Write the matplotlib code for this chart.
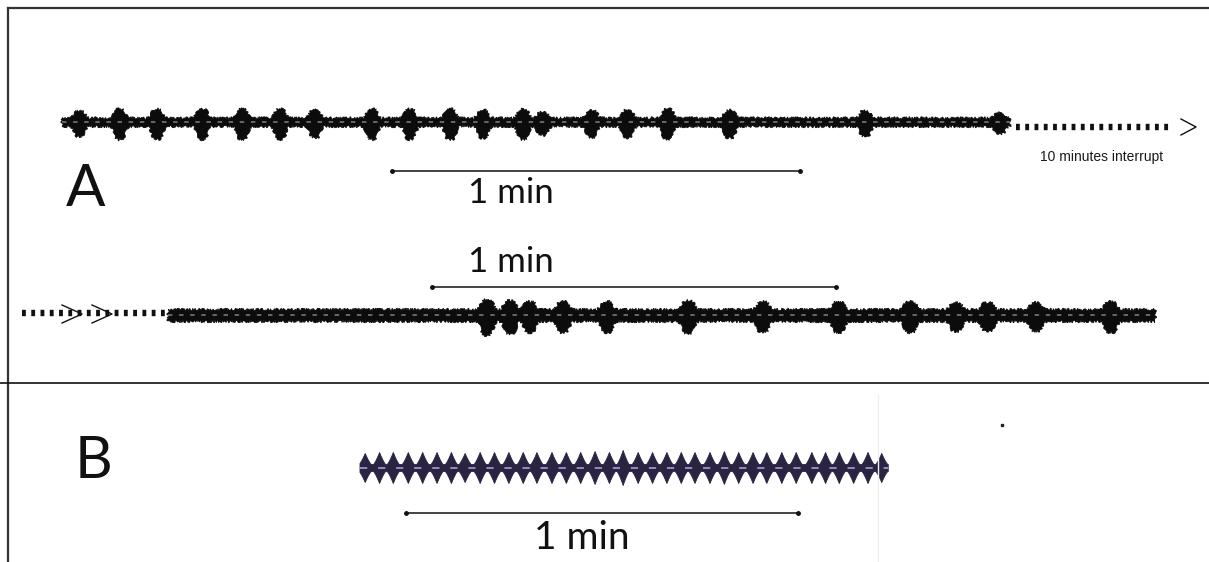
import numpy as np
import matplotlib
matplotlib.use("Agg")
import matplotlib.pyplot as plt

plt.rcParams['font.family'] = ['Lato', 'DejaVu Sans']

# ---- Trace A, first segment (times in s from trace start) ----
a1_duration = 139.4
a1_bursts = [2.6, 8.5, 14.0, 20.6, 26.5, 32.1, 37.2, 45.6, 51.2, 57.1, 61.9,
             67.8, 70.7, 77.9, 83.2, 89.1, 98.2, 118.1, 137.9]
a1_amps = [7, 9, 9, 9, 9, 9, 8, 9, 9, 9, 8, 9, 6, 8, 8, 9, 8, 7, 5]
a1_bar = [48.5, 108.5]

# ---- Trace A, after the 10 minute interruption ----
a2_duration = 146.7
a2_bursts = [47.4, 50.8, 53.8, 58.7, 65.2, 77.3, 88.4, 99.6, 110.3, 117.1,
             121.8, 129.0, 140.1]
a2_amps = [10, 9, 8, 8, 8, 9, 8, 8, 8, 7, 7, 7, 8]
a2_bar = [39.2, 99.2]

# ---- Trace B ----
b_duration = 80.9
b_spikes = [0.8, 3.0, 5.1, 7.4, 9.6, 11.8, 14.0, 16.1, 18.4, 20.6, 22.8, 25.0,
            27.1, 29.4, 31.6, 33.8, 36.0, 38.2, 40.3, 42.6, 44.8, 47.0, 49.2,
            51.3, 53.6, 55.8, 58.0, 60.2, 62.3, 64.6, 66.8, 69.2, 71.3, 73.4,
            75.6, 77.8, 79.9]
b_amps = [11, 12, 12, 12, 12, 12, 12, 11, 12, 12, 12, 12, 12, 12, 12, 12, 13,
          12, 14, 12, 12, 12, 12, 12, 12, 13, 12, 12, 12, 12, 12, 12, 12, 12,
          12, 12, 11]
b_bar = [7.0, 67.1]

fig = plt.figure(figsize=(12.09, 5.62), dpi=100)
ax = fig.add_axes([0, 0, 1, 1])
ax.set_xlim(0, 1209)
ax.set_ylim(562, 0)
ax.axis('off')


def burst_env(t, times, amps, width, base, power=4):
    env = np.full_like(t, base)
    for ti, a in zip(times, amps):
        env = env + a * np.exp(-np.abs((t - ti) / width) ** power)
    return env


def tooth_env(t, times, amps, width, base):
    env = np.full_like(t, base)
    for ti, a in zip(times, amps):
        env = env + a * np.clip(1 - np.abs(t - ti) / width, 0, None) ** 1.3
    return env


def draw_trace(x0, pxs, cy, t, up, dn, face, mid, sketch=None, mid_lw=0.8):
    xs = x0 + t * pxs
    poly_x = np.concatenate([xs, xs[::-1]])
    poly_y = np.concatenate([cy - up, (cy + dn)[::-1]])
    p = ax.fill(poly_x, poly_y, color=face, lw=0.6)[0]
    if sketch:
        p.set_sketch_params(*sketch)
    ax.plot(xs, np.full_like(xs, cy), color=mid, lw=mid_lw, ls=(0, (4, 6)), alpha=0.85)


def scale_bar(x0, pxs, y, span):
    xs = [x0 + s * pxs for s in span]
    ax.plot(xs, [y, y], color='#111111', lw=1.1, solid_capstyle='butt')
    ax.plot(xs, [y, y], 'o', color='#111111', ms=2.5)


# frame
ax.plot([8, 1209], [8, 8], color='#333333', lw=1.6)
ax.plot([8, 8], [8, 562], color='#333333', lw=1.6)
ax.plot([0, 1209], [383, 383], color='#111111', lw=1.2)

# trace A1
t1 = np.linspace(0, a1_duration, 1600)
up1 = burst_env(t1, a1_bursts, a1_amps, 0.95, 4.0)
dn1 = burst_env(t1, a1_bursts, [a * 1.45 for a in a1_amps], 0.95, 4.5)
draw_trace(62, 6.8, 122, t1, up1, dn1, '#0c0c0c', '#c9c9d2', sketch=(1.2, 2.5, 12))
scale_bar(62, 6.8, 171, a1_bar)

# interruption marker
ax.plot([1016, 1170], [127, 127], color='#111111', lw=4.6,
        ls=(0, (0.6, 0.85)), solid_capstyle='butt')
ax.plot([1181, 1196, 1181], [119, 127, 135], color='#111111', lw=1.0)
ax.text(1102, 157, '10 minutes interrupt', fontsize=10, ha='center', va='center',
        color='#1a1a1a', family=['Liberation Sans Narrow', 'Liberation Sans', 'DejaVu Sans'])

# trace A2
t2 = np.linspace(0, a2_duration, 1600)
up2 = burst_env(t2, a2_bursts, a2_amps, 1.05, 5.5)
dn2 = burst_env(t2, a2_bursts, [a * 1.4 for a in a2_amps], 1.05, 6.5)
draw_trace(168, 6.73, 315, t2, up2, dn2, '#0c0c0c', '#c9c9d2', sketch=(1.2, 2.5, 12))
scale_bar(168, 6.73, 287, a2_bar)
ax.plot([22, 168], [313, 313], color='#111111', lw=4.6,
        ls=(0, (0.6, 0.85)), solid_capstyle='butt')
for cx in (62, 92):
    ax.plot([cx, cx + 20, cx], [305, 314, 323], color='#111111', lw=1.0)

# trace B
tb = np.linspace(0, b_duration, 3000)
upb = tooth_env(tb, b_spikes, b_amps, 0.95, 3.5)
dnb = tooth_env(tb, b_spikes, b_amps, 0.95, 3.5)
draw_trace(360, 6.53, 468, tb, upb, dnb, '#2a2342', '#aeaadb', mid_lw=1.3)
scale_bar(360, 6.53, 513, b_bar)
ax.plot([878, 878], [395, 562], color='#f0f0f0', lw=1.0)
ax.plot([1002], [425], 's', color='#222222', ms=2)

# labels
ax.text(86, 190, 'A', fontsize=42, ha='center', va='center', color='#111111')
ax.text(94, 461, 'B', fontsize=42, ha='center', va='center', color='#111111')
ax.text(511, 193, '1 min', fontsize=25, ha='center', va='center', color='#111111')
ax.text(511, 262, '1 min', fontsize=25, ha='center', va='center', color='#111111')
ax.text(582, 538, '1 min', fontsize=28, ha='center', va='center', color='#111111')

fig.savefig('out.png', dpi=100)
